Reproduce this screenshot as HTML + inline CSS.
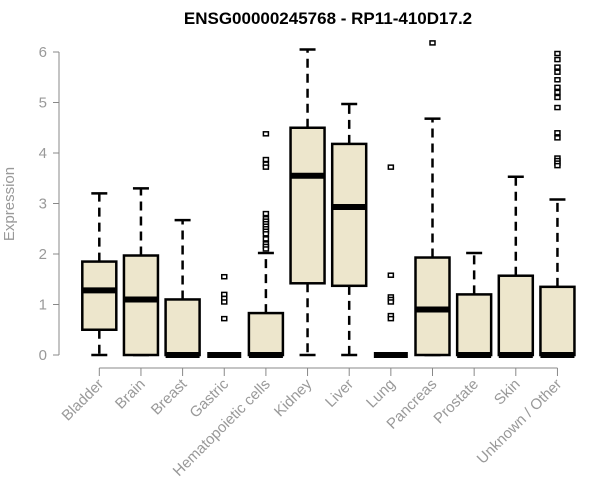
<!DOCTYPE html>
<html><head><meta charset="utf-8"><style>
html,body{margin:0;padding:0;background:#fff;width:600px;height:500px;overflow:hidden}
svg{font-family:"Liberation Sans",Arial,sans-serif}
</style></head><body>
<svg id="chart" width="600" height="500">
<text x="328" y="24" text-anchor="middle" font-weight="bold" font-size="17">ENSG00000245768 - RP11-410D17.2</text>
<text transform="translate(14,204) rotate(-90)" text-anchor="middle" font-size="15" fill="#999">Expression</text>
<g id="yaxis"></g>
<g id="xaxis"></g>
<g id="boxes"></g>
</svg>
<script>
const categories=["Bladder","Brain","Breast","Gastric","Hematopoietic cells","Kidney","Liver","Lung","Pancreas","Prostate","Skin","Unknown / Other"];
const lowWhisker=[0,0,0,0,0,0,0,0,0,0,0,0];
const q1=[0.5,0,0,0,0,1.42,1.37,0,0,0,0,0];
const medians=[1.28,1.1,0,0,0,3.55,2.93,0,0.9,0,0,0];
const q3=[1.85,1.97,1.1,0,0.83,4.5,4.18,0,1.93,1.2,1.57,1.35];
const highWhisker=[3.2,3.3,2.67,0,2.02,6.05,4.97,0,4.68,2.02,3.53,3.08];
const outliers=[[],[],[],[1.55,1.2,1.12,1.05,0.72],[4.38,3.87,3.78,3.72,2.8,2.7,2.65,2.6,2.55,2.5,2.45,2.4,2.3,2.2,2.15,2.1],[],[],[3.72,1.58,1.15,1.1,1.05,0.78,0.72],[6.18],[],[],[5.97,5.85,5.7,5.6,5.45,5.3,5.2,5.1,4.9,4.4,4.3,3.9,3.85,3.8,3.75]];
const yTicks=[0,1,2,3,4,5,6];
const NS="http://www.w3.org/2000/svg";
function y(v){return 355-v*50.5;}
function x(i){return 99.3+i*41.65;}
function mk(p,t,a){const e=document.createElementNS(NS,t);for(const k in a)e.setAttribute(k,a[k]);p.appendChild(e);return e;}
const ya=document.getElementById('yaxis'),xa=document.getElementById('xaxis'),bx=document.getElementById('boxes');
mk(ya,'line',{x1:59,x2:59,y1:y(0),y2:y(6),stroke:'#888'});
yTicks.forEach(t=>{mk(ya,'line',{x1:53,x2:59,y1:y(t),y2:y(t),stroke:'#888'});
const tx=mk(ya,'text',{x:47,y:y(t)+5,'text-anchor':'end','font-size':15,fill:'#999'});tx.textContent=t;

});
mk(xa,'line',{x1:x(0),x2:x(categories.length-1),y1:368,y2:368,stroke:'#888'});
categories.forEach((c,i)=>{
mk(xa,'line',{x1:x(i),x2:x(i),y1:368,y2:376,stroke:'#888'});
const t=mk(xa,'text',{transform:`translate(${x(i)+5},385) rotate(-45)`,'text-anchor':'end','font-size':15,fill:'#999'});
t.textContent=c;


const g=mk(bx,'g',{});


const cx=x(i),hw=17,cw=8;
mk(g,'line',{x1:cx,x2:cx,y1:y(q3[i]),y2:y(highWhisker[i]),stroke:'#000','stroke-width':2.5,'stroke-dasharray':'9,6'});
mk(g,'line',{x1:cx,x2:cx,y1:y(q1[i]),y2:y(lowWhisker[i]),stroke:'#000','stroke-width':2.5,'stroke-dasharray':'9,6'});
mk(g,'line',{x1:cx-cw,x2:cx+cw,y1:y(highWhisker[i]),y2:y(highWhisker[i]),stroke:'#000','stroke-width':2.5});
mk(g,'line',{x1:cx-cw,x2:cx+cw,y1:y(lowWhisker[i]),y2:y(lowWhisker[i]),stroke:'#000','stroke-width':2.5});
mk(g,'rect',{x:cx-hw,y:y(q3[i]),width:hw*2,height:Math.max(0,y(q1[i])-y(q3[i])),fill:'#ede6cc',stroke:'#000','stroke-width':2.5});
mk(g,'line',{x1:cx-hw,x2:cx+hw,y1:y(medians[i]),y2:y(medians[i]),stroke:'#000','stroke-width':6});
outliers[i].forEach(v=>{const o=mk(g,'rect',{x:cx-2.5,y:y(v)-2,width:5,height:4,fill:'#fff',stroke:'#000','stroke-width':1.5});

});
});
</script>
</body></html>
